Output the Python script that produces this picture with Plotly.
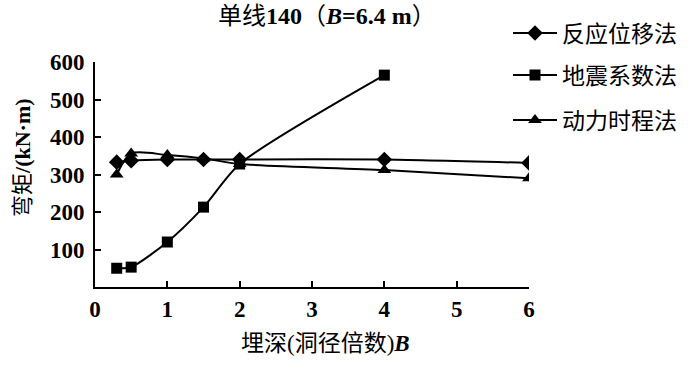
import plotly.graph_objects as go

depth_fy = [0.3, 0.5, 1, 1.5, 2, 4, 6]
moment_fy = [333, 337, 340, 340, 340, 340, 331]

depth_dz = [0.3, 0.5, 1, 1.5, 2, 4]
moment_dz = [50, 53, 120, 213, 328, 565]

depth_dl = [0.3, 0.5, 1, 1.5, 2, 4, 6]
moment_dl = [300, 356, 352, 343, 328, 312, 290]

names = ["反应位移法", "地震系数法", "动力时程法"]
x_ticks = [0, 1, 2, 3, 4, 5, 6]
y_ticks = [100, 200, 300, 400, 500, 600]

SERIF = "Liberation Serif, Noto Sans CJK SC"
CJK = "Noto Sans CJK SC"

fig = go.Figure()
fig.add_trace(go.Scatter(x=depth_fy, y=moment_fy, name=names[0], mode="lines+markers",
                         line=dict(color="black", width=2, shape="spline", smoothing=0.6),
                         marker=dict(symbol="diamond", size=12, color="black"), legend="legend"))
fig.add_trace(go.Scatter(x=depth_dz, y=moment_dz, name=names[1], mode="lines+markers",
                         line=dict(color="black", width=2, shape="spline", smoothing=0.7),
                         marker=dict(symbol="square", size=11, color="black"), legend="legend2"))
fig.add_trace(go.Scatter(x=depth_dl, y=moment_dl, name=names[2], mode="lines+markers",
                         line=dict(color="black", width=2, shape="spline", smoothing=0.8),
                         marker=dict(symbol="triangle-up", size=12, color="black"), legend="legend3"))

L, R, T, B = 95, 529, 62, 287
PW, PH = R - L, B - T


def px(x):
    return (x - L) / PW


def py(y):
    return (B - y) / PH


leg_common = dict(font=dict(family=CJK, size=23, color="black"), bgcolor="rgba(0,0,0,0)",
                  xanchor="left", yanchor="middle", itemwidth=44)

fig.update_layout(
    template="none",
    width=700, height=365,
    margin=dict(l=L, r=700 - R, t=T, b=365 - B),
    paper_bgcolor="white", plot_bgcolor="white",
    showlegend=True,
    legend=dict(x=px(508), y=py(33), **leg_common),
    legend2=dict(x=px(508), y=py(75), **leg_common),
    legend3=dict(x=px(508), y=py(120), **leg_common),
    xaxis=dict(range=[0, 6], tickvals=x_ticks, ticktext=[str(v) for v in x_ticks],
               showline=True, linecolor="black", linewidth=2, mirror=False, automargin=False,
               ticks="inside", ticklen=6, tickwidth=1.5, tickcolor="black",
               showgrid=False, zeroline=False,
               tickfont=dict(family=SERIF, size=23, color="black", weight="bold")),
    yaxis=dict(range=[0, 600], tickvals=y_ticks, ticktext=[str(v) for v in y_ticks],
               showline=True, linecolor="black", linewidth=2, automargin=False,
               ticks="inside", ticklen=6, tickwidth=1.5, tickcolor="black",
               showgrid=False, zeroline=False, ticklabelstandoff=4,
               tickfont=dict(family=SERIF, size=23, color="black", weight="bold")),
    annotations=[
        dict(text="单线<b>140</b>（<b><i>B</i>=6.4 m</b>）", xref="paper", yref="paper",
             x=px(327), y=py(16), xanchor="center", yanchor="middle",
             showarrow=False, font=dict(family=SERIF, size=24, color="black")),
        dict(text="弯矩<b>/(kN·m)</b>", xref="paper", yref="paper",
             x=px(22), y=py(158), xanchor="center", yanchor="middle",
             textangle=-90, showarrow=False,
             font=dict(family=SERIF, size=22, color="black")),
        dict(text="埋深(洞径倍数)<b><i>B</i></b>", xref="paper", yref="paper",
             x=px(325), y=py(343), xanchor="center", yanchor="middle",
             showarrow=False, font=dict(family=SERIF, size=23, color="black")),
    ],
)

fig.write_html("out.html", config={"displayModeBar": False},
               post_script="document.body.style.margin='0';")
